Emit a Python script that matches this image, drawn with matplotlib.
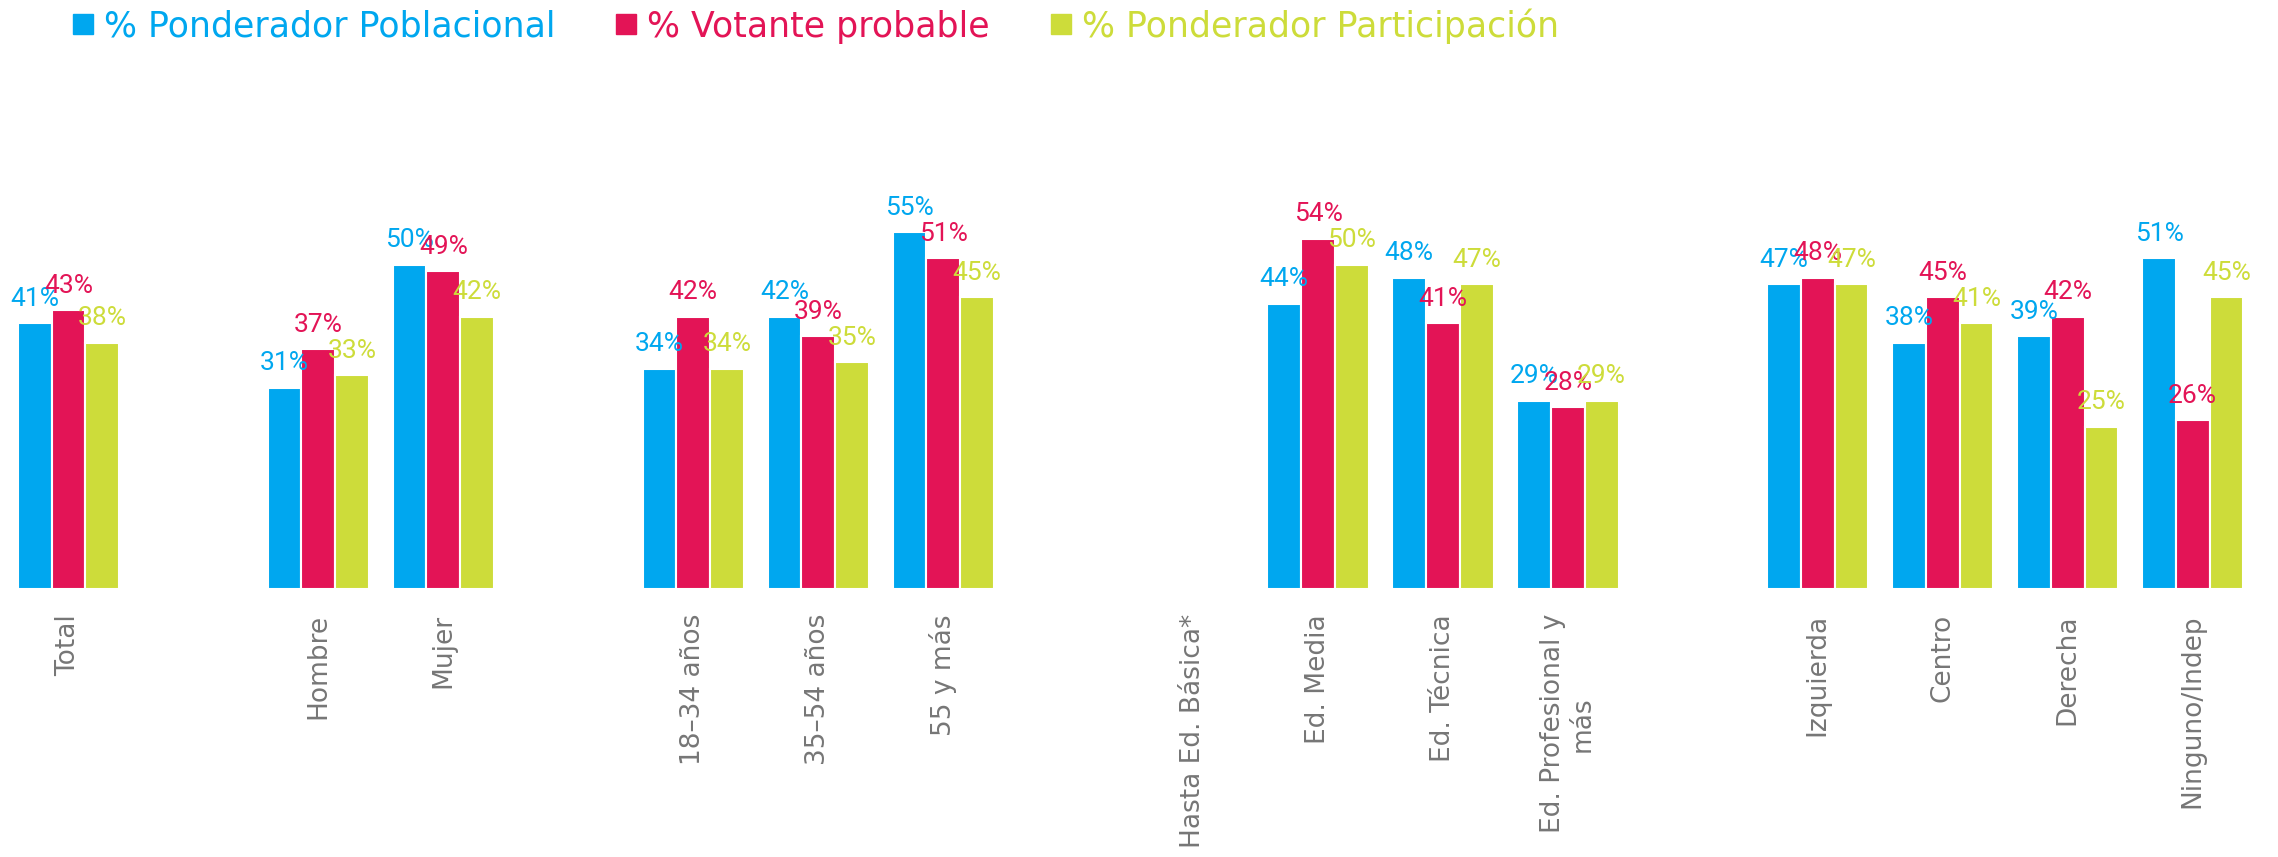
import numpy as np
import matplotlib.pyplot as plt
from matplotlib.lines import Line2D

plt.rcParams['font.family'] = ['DejaVu Sans']

categorias = ["Total", "", "Hombre", "Mujer", "", "18–34 años", "35–54 años", "55 y más", "",
              "Hasta Ed. Básica*", "Ed. Media", "Ed. Técnica", "Ed. Profesional y\nmás", "",
              "Izquierda", "Centro", "Derecha", "Ninguno/Indep"]
nan = np.nan
poblacional = [41, nan, 31, 50, nan, 34, 42, 55, nan, nan, 44, 48, 29, nan, 47, 38, 39, 51]
votante = [43, nan, 37, 49, nan, 42, 39, 51, nan, nan, 54, 41, 28, nan, 48, 45, 42, 26]
participacion = [38, nan, 33, 42, nan, 34, 35, 45, nan, nan, 50, 47, 29, nan, 47, 41, 25, 45]

series = ["% Ponderador Poblacional", "% Votante probable", "% Ponderador Participación"]
colores = ["#00A7EF", "#E31456", "#CDDC3A"]

fig = plt.figure(figsize=(22.78, 8.57), dpi=100)
ax = fig.add_axes([0.0026, 0.3127, 0.9874, 0.454])

x = np.arange(len(categorias))
w = 0.27
for i, (vals, col) in enumerate(zip([poblacional, votante, participacion], colores)):
    xs = x + (i - 1) * w
    v = np.array(vals, dtype=float)
    ax.bar(xs, v, width=w, color=col, edgecolor="white", linewidth=1.5)
    for xi, vi in zip(xs, v):
        if not np.isnan(vi):
            ax.annotate(f"{int(vi)}%", (xi, vi), xytext=(0, 9), textcoords="offset points",
                        ha="center", va="bottom", color=col, fontsize=19,
                        family=["Roboto", "DejaVu Sans"])

ax.set_xlim(-0.5, len(categorias) - 0.5)
ax.set_ylim(0, 60)
ax.set_xticks(x)
ax.set_xticklabels(categorias, rotation=90, ha="center", va="top", multialignment="center",
                   color="#767676", fontsize=19)
ax.tick_params(axis="x", length=0, pad=18)
ax.set_yticks([])
for s in ax.spines.values():
    s.set_visible(False)

handles = [Line2D([], [], marker="s", linestyle="", markersize=14, color=c) for c in colores]
leg = fig.legend(handles, series, loc="upper left", bbox_to_anchor=(0.018, 1.027), ncol=3,
                 frameon=False, fontsize=25, handlelength=0.6, handletextpad=0.3,
                 columnspacing=1.75)
for t, c in zip(leg.get_texts(), colores):
    t.set_color(c)

fig.savefig("out.png", dpi=100)
